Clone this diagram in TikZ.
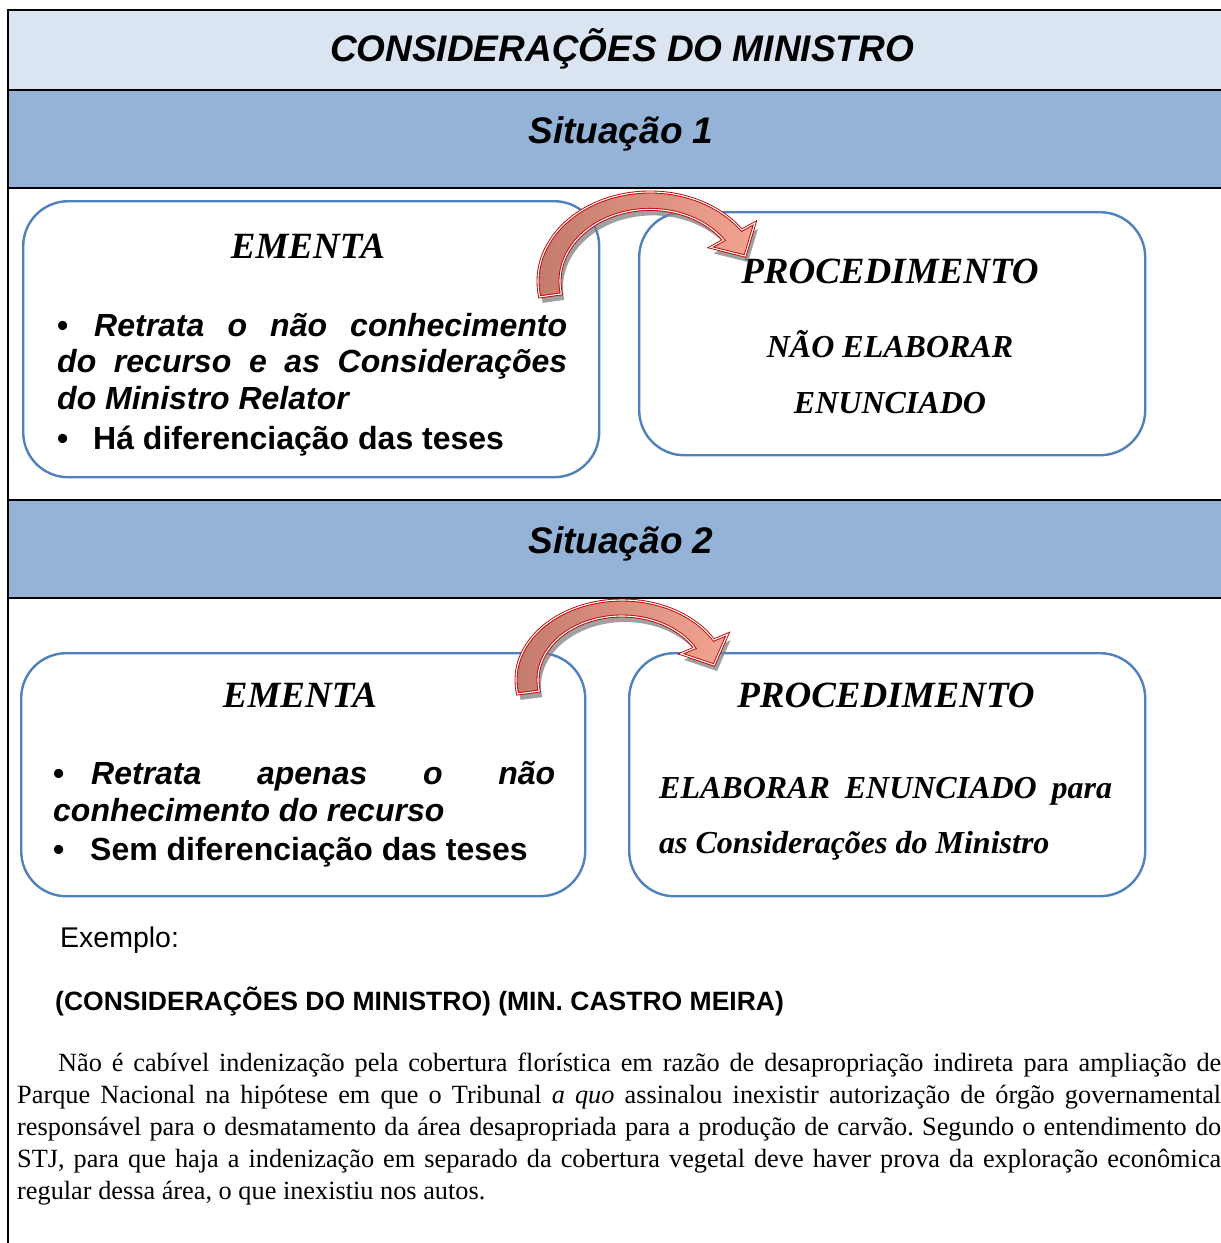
\documentclass[tikz,border=0pt]{standalone}
\usepackage{fontspec}
\setmainfont{Liberation Serif}
\newfontfamily\arial{Liberation Sans}
\usetikzlibrary{calc}
\definecolor{bandlight}{HTML}{DBE5F1}
\definecolor{banddark}{HTML}{95B3D7}
\definecolor{boxblue}{HTML}{4F81BD}
\definecolor{arrred}{HTML}{C00000}
\definecolor{arrfillA}{HTML}{C2796B}
\definecolor{arrfillB}{HTML}{F2A491}
\newcommand\arrowOne[1]{\path[#1] (539.7,296.9) arc[start angle=170, end angle=325, x radius=112, y radius=89.4] -- (755,222.8) -- (745,256) -- (710.6,247.4) -- (723.7,240.1) arc[start angle=325, end angle=170, x radius=90, y radius=72] -- cycle;}
\newcommand\arrowTwo[1]{\path[#1] (517.6,693.9) arc[start angle=170, end angle=330, x radius=106, y radius=80] -- (727.6,634.2) -- (714,665) -- (680.9,653.8) -- (694.7,648) arc[start angle=330, end angle=170, x radius=84, y radius=64] -- cycle;}
\begin{document}
\begin{tikzpicture}[x=1pt,y=-1pt,
  rule/.style={line width=2.6pt, black},
  roundbox/.style={draw=boxblue, line width=2.4pt, rounded corners=45pt, fill=white, anchor=north west, inner sep=0pt},
  sanshead/.style={font=\fontsize{37}{44}\selectfont\arial\bfseries\itshape, anchor=base, inner sep=0pt},
  serifhead/.style={font=\fontsize{37}{42}\selectfont\bfseries\itshape, anchor=base, inner sep=0pt},
  serifbody/.style={font=\fontsize{32}{36}\selectfont\bfseries\itshape, anchor=base, inner sep=0pt},
  bullettext/.style={font=\fontsize{32}{36.5}\selectfont\arial\bfseries, anchor=base west, inner sep=0pt, align=justify},
  shadowfill/.style={fill=black!50, opacity=0.75},
  blockarrow/.style={left color=arrfillA, right color=arrfillB, draw=arrred, double=white, double distance=1.1pt, line width=0.9pt, line join=miter}
]
\useasboundingbox (0,0) rectangle (1221,1243);
% bands
\fill[bandlight] (8,10) rectangle (1221,90);
\fill[banddark] (8,90) rectangle (1221,188);
\fill[banddark] (8,500) rectangle (1221,598);
\draw[rule] (8,10) -- (1221,10);
\draw[rule] (8,90) -- (1221,90);
\draw[rule] (8,188) -- (1221,188);
\draw[rule] (8,500) -- (1221,500);
\draw[rule] (8,598) -- (1221,598);
\draw[rule] (8,8.7) -- (8,1243);
% band titles
\node[sanshead] (title) at (622,61) {CONSIDERAÇÕES DO MINISTRO};
\node[sanshead] (sit1) at (621,143) {Situação 1};
\node[sanshead] (sit2) at (621,553) {Situação 2};
% boxes situation 1
\node[roundbox, minimum width=576pt, minimum height=276pt] (em1) at (22,200) {};
\node[roundbox, minimum width=506pt, minimum height=243pt] (pr1) at (638,211) {};
\node[serifhead] (em1t) at (308,258) {EMENTA};
\node[serifhead] (pr1t) at (890,283) {PROCEDIMENTO};
\node[serifbody] (pr1a) at (890,357) {NÃO ELABORAR};
\node[serifbody] (pr1b) at (890,413) {ENUNCIADO};
\node[bullettext, text width=510pt] (em1b) at (57,336) {{\itshape\makebox[37pt][l]{\upshape•}Retrata o não conhecimento\linebreak do recurso e as Considerações\linebreak do Ministro Relator\par}\vspace{3.5pt}\makebox[36pt][l]{•}Há diferenciação das teses};
% boxes situation 2
\node[roundbox, minimum width=564pt, minimum height=243pt] (em2) at (20,652) {};
\node[roundbox, minimum width=516pt, minimum height=243pt] (pr2) at (628,652) {};
\node[serifhead] (em2t) at (300,707) {EMENTA};
\node[serifhead] (pr2t) at (886,707) {PROCEDIMENTO};
\node[bullettext, text width=502pt, font=\fontsize{32}{37.5}\selectfont\arial\bfseries] (em2b) at (53,784) {{\itshape\makebox[38pt][l]{\upshape•}Retrata apenas o não\linebreak conhecimento do recurso\par}\vspace{1.5pt}\makebox[37pt][l]{•}Sem diferenciação das teses};
\node[anchor=base west, inner sep=0pt, text width=453pt, align=justify, font=\fontsize{32}{55}\selectfont\bfseries\itshape] (pr2b) at (659,798) {ELABORAR ENUNCIADO para\linebreak as Considerações do Ministro};
% curved arrows
\arrowOne{shadowfill, shift={(3,6)}}
\arrowOne{blockarrow}
\arrowTwo{shadowfill, shift={(3,6)}}
\arrowTwo{blockarrow}
% example
\node[anchor=base west, inner sep=0pt, font=\fontsize{28.5}{34}\selectfont\arial] (ex) at (60,947) {Exemplo:};
\node[anchor=base west, inner sep=0pt, font=\fontsize{26.5}{32}\selectfont\arial\bfseries] (exh) at (55,1010) {(CONSIDERAÇÕES DO MINISTRO) (MIN. CASTRO MEIRA)};
\node[anchor=base west, inner sep=0pt, text width=1204pt, align=justify, font=\fontsize{26.3}{32}\selectfont\frenchspacing] (para) at (17,1071) {\hspace*{41pt}Não é cabível indenização pela cobertura florística em razão de desapropriação indireta para ampliação de\linebreak Parque Nacional na hipótese em que o Tribunal \textit{a quo} assinalou inexistir autorização de órgão governamental\linebreak responsável para o desmatamento da área desapropriada para a produção de carvão. Segundo o entendimento do\linebreak STJ, para que haja a indenização em separado da cobertura vegetal deve haver prova da exploração econômica\linebreak regular dessa área, o que inexistiu nos autos.};
\end{tikzpicture}
\end{document}
